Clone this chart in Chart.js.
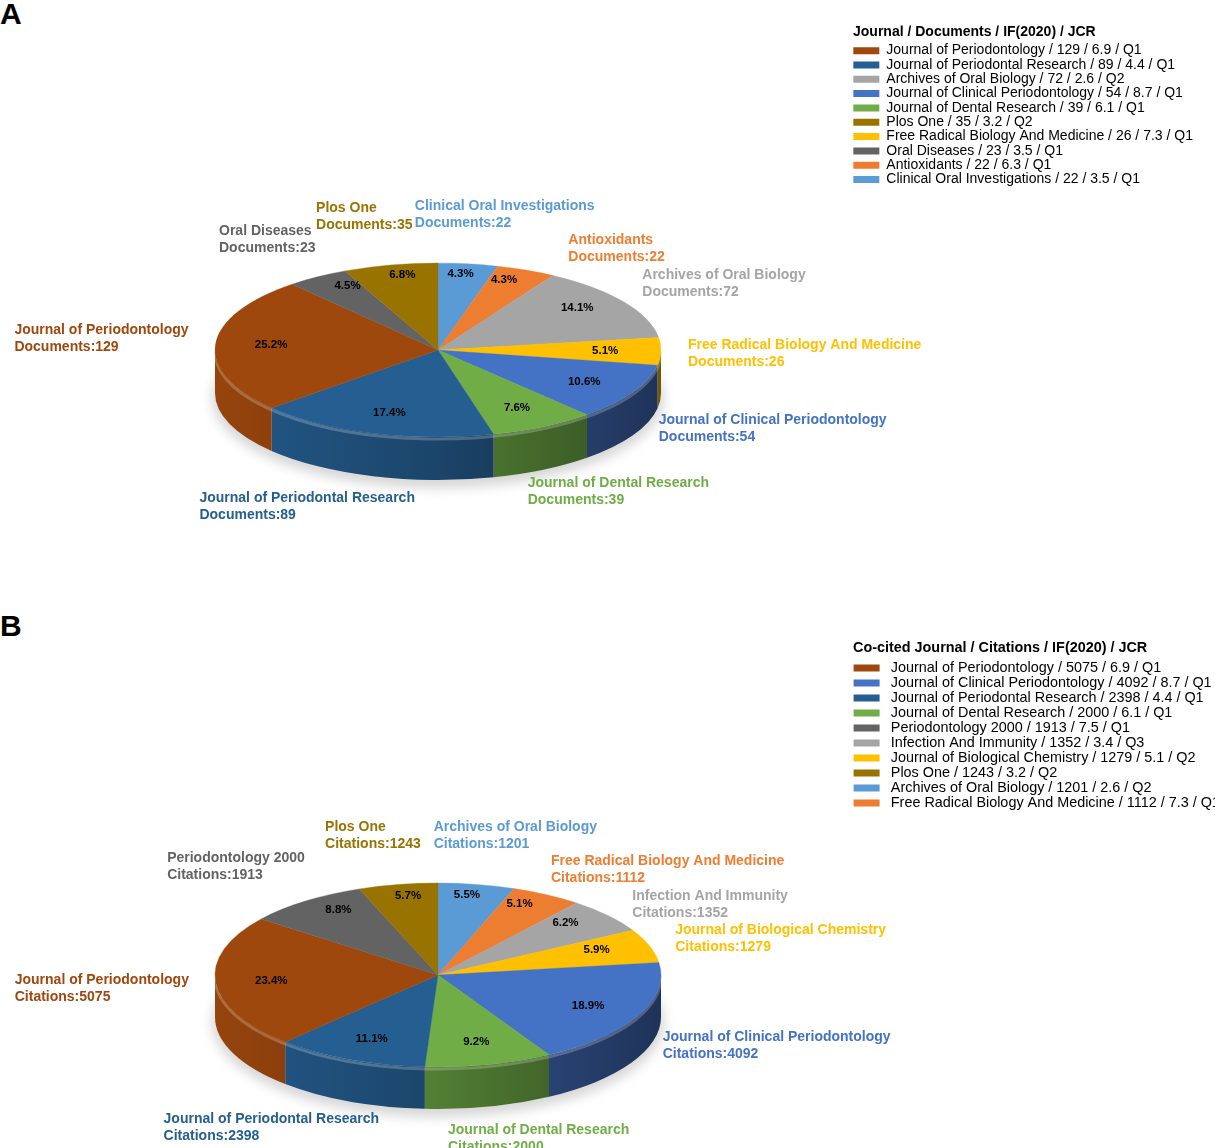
<!DOCTYPE html>
<html>
<head>
<meta charset="utf-8">
<title>Journals / Co-cited journals</title>
<script src="https://cdn.jsdelivr.net/npm/chart.js@4.4.0/dist/chart.umd.min.js"></script>
<style>
    html, body { margin: 0; padding: 0; background: #fff; }
    .page { position: relative; width: 1215px; height: 1148px; overflow: hidden; font-family: "Liberation Sans", Arial, sans-serif; }
    .panel-tag { position: absolute; left: 0; font-weight: bold; font-size: 30px; line-height: 1; color: #000; }
    canvas { position: absolute; left: 0; }
</style>
</head>
<body>
<div class="page">
    <div class="panel-tag" style="top:-1px;">A</div>
    <canvas id="chartA" width="1215" height="600" style="top:0;"></canvas>
    <div class="panel-tag" style="top:611px;">B</div>
    <canvas id="chartB" width="1215" height="548" style="top:600px;"></canvas>
</div>
<script>
// ========== DATA (clockwise from 12 o'clock) ==========
const journalsA = ['Clinical Oral Investigations', 'Antioxidants', 'Archives of Oral Biology',
    'Free Radical Biology And Medicine', 'Journal of Clinical Periodontology', 'Journal of Dental Research',
    'Journal of Periodontal Research', 'Journal of Periodontology', 'Oral Diseases', 'Plos One'];
const documentsA = [22, 22, 72, 26, 54, 39, 89, 129, 23, 35];
const impactA = ['3.5', '6.3', '2.6', '7.3', '8.7', '6.1', '4.4', '6.9', '3.5', '3.2'];
const jcrA = ['Q1', 'Q1', 'Q2', 'Q1', 'Q1', 'Q1', 'Q1', 'Q1', 'Q1', 'Q2'];
const coloursA = ['#5B9BD5', '#ED7D31', '#A5A5A5', '#FFC000', '#4472C4', '#70AD47', '#255E91', '#9E480E', '#636363', '#997300'];

const journalsB = ['Archives of Oral Biology', 'Free Radical Biology And Medicine', 'Infection And Immunity',
    'Journal of Biological Chemistry', 'Journal of Clinical Periodontology', 'Journal of Dental Research',
    'Journal of Periodontal Research', 'Journal of Periodontology', 'Periodontology 2000', 'Plos One'];
const citationsB = [1201, 1112, 1352, 1279, 4092, 2000, 2398, 5075, 1913, 1243];
const impactB = ['2.6', '7.3', '3.4', '5.1', '8.7', '6.1', '4.4', '6.9', '7.5', '3.2'];
const jcrB = ['Q2', 'Q1', 'Q3', 'Q2', 'Q1', 'Q1', 'Q1', 'Q1', 'Q1', 'Q2'];
const coloursB = ['#5B9BD5', '#ED7D31', '#A5A5A5', '#FFC000', '#4472C4', '#70AD47', '#255E91', '#9E480E', '#636363', '#997300'];

const FONT = '"Liberation Sans", Arial, sans-serif';

// ========== HELPERS ==========
function shade(hex, f) {
    const n = parseInt(hex.slice(1), 16);
    const r = Math.round(((n >> 16) & 255) * f);
    const g = Math.round(((n >> 8) & 255) * f);
    const b = Math.round((n & 255) * f);
    return `rgb(${r},${g},${b})`;
}

function overlaps(a, b) {
    return a.x < b.x + b.w + 2 && b.x < a.x + a.w + 2 && a.y < b.y + b.h && b.y < a.y + a.h;
}

// is a point on the disc (top face, side wall or bottom rim)?
function onDisc(px, py, cx, cy, rx, ry, depth) {
    const ex = (px - cx) / (rx + 4);
    if (Math.abs(ex) <= 1 && py >= cy && py <= cy + depth) return true;
    const e1 = (py - cy) / (ry + 4);
    const e2 = (py - cy - depth) / (ry + 4);
    return ex * ex + e1 * e1 < 1 || ex * ex + e2 * e2 < 1;
}

function boxOnDisc(b, cx, cy, rx, ry, depth) {
    const xs = [b.x, b.x + b.w / 2, b.x + b.w];
    const ys = [b.y + 3, b.y + b.h / 2, b.y + b.h - 3];
    return xs.some(x => ys.some(y => onDisc(x, y, cx, cy, rx, ry, depth)));
}

// ========== 3D PIE PLUGIN ==========
// squashes the library's arcs into an ellipse and adds the side wall + labels
const pie3d = {
    id: 'pie3d',

    afterLayout(chart, args, opts) {
        const lg = chart.legend;
        if (!lg) return;
        const dx = opts.legendX - lg.left;
        const dy = opts.legendY - lg.top;
        lg.left += dx; lg.right += dx;
        lg.top += dy; lg.bottom += dy;
    },

    beforeDatasetsDraw(chart, args, opts) {
        const ctx = chart.ctx;
        const arcs = chart.getDatasetMeta(0).data;
        if (!arcs.length) return;
        const colours = chart.data.datasets[0].backgroundColor;
        const rx = arcs[0].outerRadius;
        const { cx, cy, ry, depth } = opts;

        // soft shadow under the disc
        ctx.save();
        ctx.filter = 'blur(6px)';
        ctx.fillStyle = 'rgba(0,0,0,0.16)';
        ctx.beginPath();
        ctx.ellipse(cx, cy + depth + 5, rx + 3, ry + 3, 0, 0, Math.PI * 2);
        ctx.fill();
        ctx.restore();

        // side wall, only the front half (0..PI) is visible
        arcs.forEach((arc, i) => {
            const s = Math.max(arc.startAngle, 0);
            const e = Math.min(arc.endAngle, Math.PI);
            if (e <= s) return;
            const grad = ctx.createLinearGradient(cx - rx, 0, cx + rx, 0);
            grad.addColorStop(0, shade(colours[i], 0.95));
            grad.addColorStop(0.45, shade(colours[i], 0.75));
            grad.addColorStop(1, shade(colours[i], 0.45));
            ctx.save();
            ctx.beginPath();
            ctx.ellipse(cx, cy, rx, ry, 0, s, e);
            ctx.ellipse(cx, cy + depth, rx, ry, 0, e, s, true);
            ctx.closePath();
            ctx.fillStyle = grad;
            ctx.fill();
            ctx.restore();
        });

        // bevel highlight along the front rim
        ctx.save();
        ctx.strokeStyle = 'rgba(255,255,255,0.22)';
        ctx.lineWidth = 3;
        ctx.beginPath();
        ctx.ellipse(cx, cy + 2, rx, ry, 0, 0.05, Math.PI - 0.05);
        ctx.stroke();
        ctx.restore();

        // top face
        ctx.save();
        ctx.translate(cx, cy);
        ctx.scale(1, ry / rx);
        ctx.translate(-arcs[0].x, -arcs[0].y);
    },

    afterDatasetsDraw(chart, args, opts) {
        const ctx = chart.ctx;
        const arcs = chart.getDatasetMeta(0).data;
        if (!arcs.length) return;
        ctx.restore();

        const values = chart.data.datasets[0].data;
        const colours = chart.data.datasets[0].backgroundColor;
        const total = values.reduce((a, b) => a + b, 0);
        const rx = arcs[0].outerRadius;
        const { cx, cy, ry, depth } = opts;
        const placed = [];

        arcs.forEach((arc, i) => {
            const mid = (arc.startAngle + arc.endAngle) / 2;
            const ux = Math.cos(mid), uy = Math.sin(mid);

            // percentage inside the slice (top half sits further out, as in perspective)
            const innerY = uy < 0 ? opts.innerTop : opts.inner;
            ctx.save();
            ctx.font = `bold 11.5px ${FONT}`;
            ctx.fillStyle = '#000';
            ctx.textAlign = 'center';
            ctx.textBaseline = 'middle';
            ctx.fillText((values[i] / total * 100).toFixed(1) + '%',
                cx + rx * opts.inner * ux, cy + ry * innerY * uy);

            // outside label
            const lines = [chart.data.labels[i], opts.metric + ':' + values[i]];
            ctx.font = `bold 14px ${FONT}`;
            const w = Math.max(...lines.map(t => ctx.measureText(t).width));
            const h = 34;
            const gapY = uy < 0 ? opts.gapY + 15 * Math.pow(uy, 4) : opts.gapY;
            const ax = cx + (rx + opts.gapX) * ux;
            const ay = cy + (ry + gapY) * uy + (uy > 0 ? depth * uy * uy : 0);
            const box = {
                x: ax - w * (1 - Math.sign(ux) * Math.sqrt(Math.abs(ux))) / 2,
                y: ay - h * (1 - Math.sign(uy) * Math.sqrt(Math.abs(uy))) / 2,
                w, h
            };

            // keep off the disc, then slide along the rim until clear of earlier labels
            const tx = -uy, ty = ux;
            for (let step = 0; step < 400; step++) {
                if (boxOnDisc(box, cx, cy, rx, ry, depth)) {
                    box.x += ux; box.y += uy;
                    continue;
                }
                const other = placed.find(p => overlaps(p, box));
                if (!other) break;
                const dir = ((box.x + w / 2 - other.x - other.w / 2) * tx +
                    (box.y + h / 2 - other.y - other.h / 2) * ty) >= 0 ? 1 : -1;
                box.x += tx * dir;
                box.y += ty * dir;
            }
            placed.push(box);

            ctx.textAlign = 'left';
            ctx.fillStyle = colours[i];
            lines.forEach((t, j) => ctx.fillText(t, box.x, box.y + 8.5 + j * 17));
            ctx.restore();
        });
    }
};

// ========== BUILD ==========
function buildPie(id, names, values, impact, jcr, colours, cfg) {
    return new Chart(document.getElementById(id), {
        type: 'pie',
        data: {
            labels: names,
            datasets: [{
                data: values,
                backgroundColor: colours,
                borderColor: colours,
                borderWidth: 0.5,
                clip: false
            }]
        },
        options: {
            responsive: false,
            animation: false,
            events: [],
            radius: 223,
            plugins: {
                tooltip: { enabled: false },
                legend: {
                    position: 'right',
                    align: 'start',
                    title: {
                        display: true,
                        text: cfg.legendTitle,
                        position: 'start',
                        color: '#000',
                        font: { family: FONT, size: cfg.legendFont, weight: 'bold' },
                        padding: { top: 0, bottom: cfg.titleGap }
                    },
                    labels: {
                        boxWidth: 26,
                        boxHeight: 7,
                        padding: cfg.legendPad,
                        color: '#000',
                        font: { family: FONT, size: cfg.legendFont },
                        generateLabels: chart => chart.data.labels.map((name, i) => ({
                            text: `${cfg.lead}${name} / ${values[i]} / ${impact[i]} / ${jcr[i]}`,
                            fillStyle: colours[i],
                            strokeStyle: colours[i],
                            lineWidth: 0,
                            hidden: false,
                            index: i,
                            datasetIndex: 0
                        })),
                        sort: (a, b) => values[b.index] - values[a.index] || b.index - a.index
                    }
                },
                pie3d: {
                    cx: 438, cy: cfg.cy, ry: cfg.ry, depth: cfg.depth,
                    inner: 0.75, innerTop: 0.88, gapX: 27, gapY: 18,
                    metric: cfg.metric,
                    legendX: 853, legendY: cfg.legendY
                }
            }
        },
        plugins: [pie3d]
    });
}

buildPie('chartA', journalsA, documentsA, impactA, jcrA, coloursA, {
    metric: 'Documents', legendTitle: 'Journal / Documents / IF(2020) / JCR',
    cy: 350, ry: 87, depth: 43,
    legendFont: 14, legendPad: 0.33, titleGap: 1, legendY: 25.5, lead: ''
});

buildPie('chartB', journalsB, citationsB, impactB, jcrB, coloursB, {
    metric: 'Citations', legendTitle: 'Co-cited Journal / Citations / IF(2020) / JCR',
    cy: 375, ry: 92, depth: 42,
    legendFont: 14.4, legendPad: 0.6, titleGap: 2, legendY: 40.8, lead: ' '
});
</script>
</body>
</html>
